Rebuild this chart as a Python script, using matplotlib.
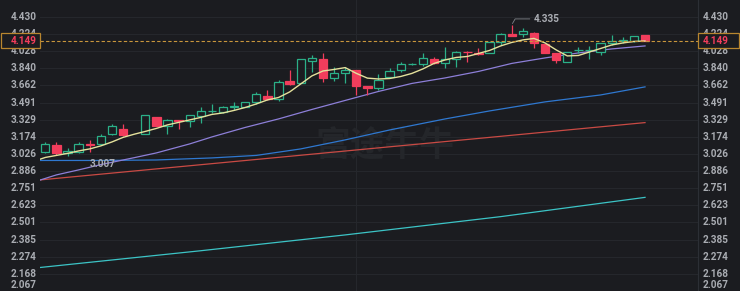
import numpy as np
import matplotlib
matplotlib.use("Agg")
import matplotlib.pyplot as plt
import matplotlib.transforms as mtransforms
from matplotlib.patches import Rectangle

nan = np.nan

# daily candles (index 8 is an empty slot)
opens = [3.046, 3.099, 3.035, 3.041, 3.108, 3.111, 3.200, 3.246, nan, 3.200,
         3.354, 3.273, 3.325, 3.313, 3.363, 3.408, 3.399, 3.450, 3.447, 3.492,
         3.559, 3.522, 3.709, 3.685, 3.922, 3.940, 3.734, 3.788, 3.823, 3.658,
         3.635, 3.752, 3.823, 3.882, 3.884, 3.940, 3.895, 3.940, 4.022, 4.008,
         4.005, 4.129, 4.226, 4.226, 4.242, 4.105, 4.005, 3.911, 4.038, 4.038,
         4.022, 4.117, 4.145, 4.144, 4.215]
highs = [3.132, 3.129, 3.076, 3.125, 3.143, 3.196, 3.292, 3.289, nan, 3.372,
         3.356, 3.331, 3.326, 3.372, 3.453, 3.476, 3.456, 3.496, 3.499, 3.600,
         3.617, 3.719, 3.823, 3.940, 3.983, 4.005, 3.858, 3.852, 3.826, 3.660,
         3.777, 3.841, 3.911, 3.895, 4.005, 3.965, 4.072, 4.025, 4.025, 4.061,
         4.132, 4.234, 4.335, 4.295, 4.245, 4.108, 4.008, 4.019, 4.079, 4.086,
         4.120, 4.215, 4.195, 4.206, 4.218]
lows = [3.038, 3.021, 3.007, 3.035, 3.046, 3.099, 3.187, 3.178, nan, 3.198,
        3.270, 3.200, 3.243, 3.261, 3.298, 3.389, 3.396, 3.421, 3.444, 3.479,
        3.516, 3.509, 3.668, 3.682, 3.798, 3.692, 3.712, 3.685, 3.566, 3.566,
        3.617, 3.741, 3.805, 3.878, 3.866, 3.888, 3.841, 3.852, 3.905, 3.985,
        4.002, 4.096, 4.204, 4.195, 4.061, 4.008, 3.895, 3.908, 4.011, 3.937,
        3.985, 4.096, 4.117, 4.129, 4.140]
closes = [3.111, 3.035, 3.055, 3.111, 3.103, 3.185, 3.273, 3.193, nan, 3.369,
          3.273, 3.329, 3.320, 3.369, 3.411, 3.413, 3.453, 3.455, 3.496, 3.573,
          3.522, 3.699, 3.681, 3.937, 3.948, 3.734, 3.788, 3.823, 3.658, 3.640,
          3.719, 3.812, 3.884, 3.888, 3.948, 3.895, 3.940, 4.022, 4.015, 4.000,
          4.129, 4.226, 4.206, 4.265, 4.117, 4.011, 3.930, 4.016, 4.044, 4.044,
          4.117, 4.148, 4.150, 4.203, 4.149]

# moving averages (index -1 is just left of the view)
ma_short = [2.966, 2.997, 3.014, 3.031, 3.052, 3.069, 3.095, 3.129, 3.169, 3.197,
            3.222, 3.249, 3.281, 3.304, 3.327, 3.350, 3.378, 3.392, 3.416, 3.444,
            3.478, 3.517, 3.541, 3.596, 3.677, 3.760, 3.812, 3.828, 3.848, 3.787,
            3.737, 3.728, 3.733, 3.754, 3.786, 3.834, 3.893, 3.931, 3.958, 3.969,
            4.002, 4.036, 4.087, 4.127, 4.156, 4.173, 4.121, 4.042, 3.975, 3.980,
            4.019, 4.058, 4.098, 4.121, 4.138, 4.144]
purple_idx = [-1, 1, 3, 5, 8, 10, 13, 15, 18, 21, 24, 27, 30, 33, 36, 39, 42, 45, 48, 51, 54]
purple_val = [2.800, 2.855, 2.895, 2.938, 2.995, 3.035, 3.112, 3.173, 3.258, 3.336, 3.425,
              3.512, 3.601, 3.682, 3.739, 3.807, 3.893, 3.953, 4.008, 4.053, 4.087]
blue_idx = [-1, 5, 10, 15, 19, 23, 27, 31, 36, 40, 45, 50, 54]
blue_val = [2.972, 2.972, 2.976, 2.993, 3.014, 3.069, 3.147, 3.235, 3.336, 3.411, 3.498, 3.566, 3.647]
red_idx = [-1, 10, 20, 30, 40, 54]
red_val = [2.811, 2.903, 2.989, 3.078, 3.169, 3.302]
cyan_idx = [-1, 14, 27, 41, 54]
cyan_val = [2.203, 2.312, 2.416, 2.542, 2.682]

yticks = [4.430, 4.224, 4.028, 3.840, 3.662, 3.491, 3.329, 3.174, 3.026, 2.886,
          2.751, 2.623, 2.501, 2.385, 2.274, 2.168, 2.067]
last_price = 4.149

BG = '#1b1c20'
GRID = '#26282d'
LABEL = '#a9acb2'
UP = '#2bb088'
DOWN = '#f23d5c'
FONT = ['Roboto', 'DejaVu Sans']

fig = plt.figure(figsize=(7.4, 2.91), dpi=100, facecolor=BG)
ax = fig.add_axes([40 / 740, 0, 658 / 740, 1])
ax.set_facecolor(BG)
ax.set_yscale('log')
ax.set_ylim(2.067, 4.644)
ax.set_xlim(-0.48, 58.77)
ax.set_xticks([])
ax.set_yticks([])
ax.minorticks_off()
for s in ['top', 'left', 'bottom']:
    ax.spines[s].set_visible(False)
ax.spines['right'].set_color('#2c2f35')
ax.spines['right'].set_linewidth(0.8)

for t in yticks[:-1]:
    ax.axhline(t, color=GRID, lw=0.7, zorder=0)
ax.axvline(28, color=GRID, lw=0.7, zorder=0)

# watermark
ax.text(0.525, 0.5, '富途牛牛', transform=ax.transAxes, ha='center', va='center',
        fontsize=25, color='#24262a', family=['Noto Sans CJK SC', 'DejaVu Sans'],
        fontweight='bold', zorder=0)

# MA lines
ax.plot(cyan_idx, cyan_val, color='#3cc4c6', lw=0.9, zorder=2)
ax.plot(red_idx, red_val, color='#c94a44', lw=0.9, zorder=2)
ax.plot(blue_idx, blue_val, color='#2f78d0', lw=0.9, zorder=2)
ax.plot(purple_idx, purple_val, color='#8d7fd8', lw=0.9, zorder=2)
ax.plot(np.arange(-1, len(ma_short) - 1), ma_short, color='#e4e19c', lw=1.0, zorder=4)

# candles
w = 0.75
for i in range(len(opens)):
    o, h, l, c = opens[i], highs[i], lows[i], closes[i]
    if np.isnan(o):
        continue
    up = c >= o
    col = UP if up else DOWN
    ax.vlines(i, l, h, color=col, lw=0.9, zorder=3)
    bot, top = min(o, c), max(o, c)
    ax.bar(i, top - bot, bottom=bot, width=w,
           facecolor=BG if up else DOWN, edgecolor=col, lw=0.9, zorder=3.5)

# last price line
ax.axhline(last_price, color='#c8963c', lw=0.8, ls=(0, (3, 2)), zorder=5)

tf = mtransforms.blended_transform_factory(ax.transAxes, ax.transData)
font = dict(family=FONT, fontsize=7.2, color=LABEL, fontweight='bold')
for t in yticks:
    va = 'bottom' if t == yticks[-1] else 'center'
    dy = 1 if t == yticks[-1] else 0
    ax.annotate(f'{t:.3f}', xy=(0, t), xycoords=tf, xytext=(-2.2, dy), textcoords='offset points',
                ha='right', va=va, annotation_clip=False, **font)
    ax.annotate(f'{t:.3f}', xy=(1, t), xycoords=tf, xytext=(3.4, dy), textcoords='offset points',
                ha='left', va=va, annotation_clip=False, **font)

# price boxes on both axes
px = mtransforms.IdentityTransform()
yc = ax.transData.transform((0, last_price))[1]
for x0, x1, tx, ha in [(0.5, 39.5, 37, 'right'), (698, 738.5, 702.7, 'left')]:
    fig.add_artist(Rectangle((x0, yc - 7.2), x1 - x0, 14.4, transform=px,
                             facecolor=BG, edgecolor='#b8862f', lw=0.9, zorder=10))
    fig.text(tx, yc, f'{last_price:.3f}', transform=px, ha=ha, va='center',
             zorder=11, **dict(font, color=DOWN))

# high / low markers
hi = int(np.nanargmax(highs))
lo = int(np.nanargmin(lows))
ax.annotate(f'{highs[hi]:.3f}', xy=(hi, highs[hi]), xytext=(16, 4.2), textcoords='offset points',
            ha='left', va='center', zorder=6, **font,
            arrowprops=dict(arrowstyle='-', color='#80848a', lw=0.6, shrinkA=1, shrinkB=1,
                            connectionstyle='angle,angleA=0,angleB=60,rad=0'))
ax.annotate(f'{lows[lo]:.3f}', xy=(lo, lows[lo]), xytext=(16.3, -5.6), textcoords='offset points',
            ha='left', va='center', zorder=6, **font)

fig.savefig('out.png', dpi=100, facecolor=BG)
